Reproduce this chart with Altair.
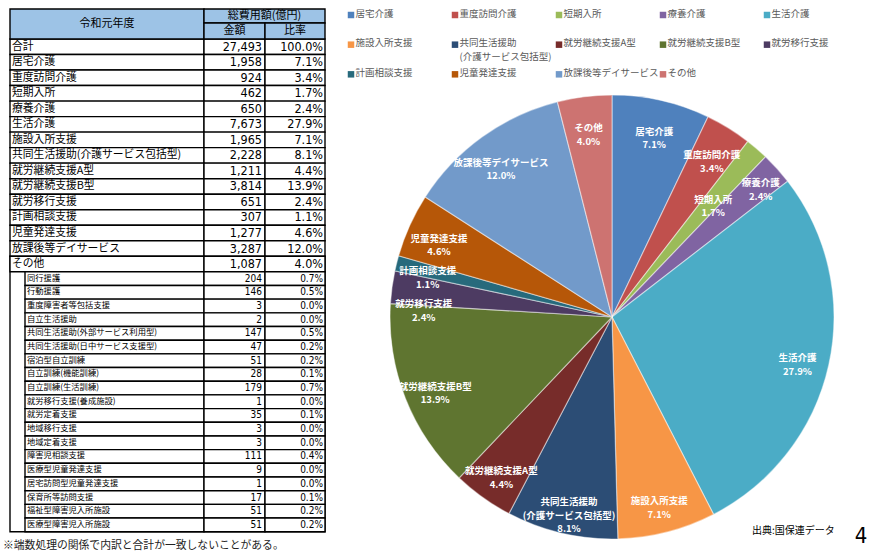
import altair as alt
import pandas as pd

# ---------------- data ----------------
header_year = "令和元年度"
header_total = "総費用額(億円)"
header_cols = ["金額", "比率"]

main_names = ["合計", "居宅介護", "重度訪問介護", "短期入所", "療養介護", "生活介護", "施設入所支援",
              "共同生活援助(介護サービス包括型)", "就労継続支援A型", "就労継続支援B型", "就労移行支援",
              "計画相談支援", "児童発達支援", "放課後等デイサービス", "その他"]
main_amounts = [27493, 1958, 924, 462, 650, 7673, 1965, 2228, 1211, 3814, 651, 307, 1277, 3287, 1087]
main_pcts = [100.0, 7.1, 3.4, 1.7, 2.4, 27.9, 7.1, 8.1, 4.4, 13.9, 2.4, 1.1, 4.6, 12.0, 4.0]

sub_names = ["同行援護", "行動援護", "重度障害者等包括支援", "自立生活援助",
             "共同生活援助(外部サービス利用型)", "共同生活援助(日中サービス支援型)", "宿泊型自立訓練",
             "自立訓練(機能訓練)", "自立訓練(生活訓練)", "就労移行支援(養成施設)", "就労定着支援",
             "地域移行支援", "地域定着支援", "障害児相談支援", "医療型児童発達支援",
             "居宅訪問型児童発達支援", "保育所等訪問支援", "福祉型障害児入所施設", "医療型障害児入所施設"]
sub_amounts = [204, 146, 3, 2, 147, 47, 51, 28, 179, 1, 35, 3, 3, 111, 9, 1, 17, 51, 51]
sub_pcts = [0.7, 0.5, 0.0, 0.0, 0.5, 0.2, 0.2, 0.1, 0.7, 0.0, 0.1, 0.0, 0.0, 0.4, 0.0, 0.0, 0.1, 0.2, 0.2]

pie_colors = ["#4F81BD", "#C0504D", "#9BBB59", "#8064A2", "#4BACC6", "#F79646", "#2C4D75",
              "#772C2A", "#5F7530", "#4D3B62", "#276A7C", "#B65708", "#729ACA", "#CD7371"]

footnote = "※端数処理の関係で内訳と合計が一致しないことがある。"
source = "出典:国保連データ"
page_no = "4"

# ---------------- layout constants ----------------
CJK = "Noto Sans CJK JP"
NARROW = "Liberation Sans Narrow, DejaVu Sans Condensed, sans-serif"
TW, RW, H = 330, 530, 555
TX0, TXS, TX1, TX2, TX3 = 10, 25, 204, 265, 325
HT, HM, HB = 9, 23, 39
MAIN_H, SUB_H = 15.52, 13.68

rows = []
y = HB
for n, a, p in zip(main_names, main_amounts, main_pcts):
    rows.append(dict(kind="main", name=n, amt=f"{a:,}", pct=f"{p:.1f}%", y0=y, y1=y + MAIN_H, xl=TX0))
    y += MAIN_H
other_top = y - MAIN_H
for n, a, p in zip(sub_names, sub_amounts, sub_pcts):
    rows.append(dict(kind="sub", name=n, amt=f"{a:,}", pct=f"{p:.1f}%", y0=y, y1=y + SUB_H, xl=TXS))
    y += SUB_H
table_bottom = y
rows = pd.DataFrame(rows)
rows["ym"] = (rows.y0 + rows.y1) / 2
rows["xa"] = TX2
rows["xp"] = TX3

cells = []
for r in rows.itertuples():
    for a, b in [(r.xl, TX1), (TX1, TX2), (TX2, TX3)]:
        cells.append(dict(x0=a, x1=b, y0=r.y0, y1=r.y1))
cells = pd.DataFrame(cells)

bracket = pd.DataFrame([dict(x0=TX0, x1=TX3, y0=other_top, y1=table_bottom)])

head = pd.DataFrame([
    dict(t=header_year, x0=TX0, x1=TX1, y0=HT, y1=HB),
    dict(t=header_total, x0=TX1, x1=TX3, y0=HT, y1=HM),
    dict(t=header_cols[0], x0=TX1, x1=TX2, y0=HM, y1=HB),
    dict(t=header_cols[1], x0=TX2, x1=TX3, y0=HM, y1=HB),
])
head["xc"] = (head.x0 + head.x1) / 2
head["yc"] = (head.y0 + head.y1) / 2

xs = alt.Scale(domain=[0, TW], nice=False, zero=False)
ys = alt.Scale(domain=[0, H], nice=False, zero=False, reverse=True)

def X(f):
    return alt.X(f, type="quantitative", scale=xs, axis=None)

def Y(f):
    return alt.Y(f, type="quantitative", scale=ys, axis=None)

rect_kw = dict(stroke="black", strokeWidth=1.4)
t_bracket = alt.Chart(bracket).mark_rect(fill="white", **rect_kw).encode(x=X("x0"), x2="x1", y=Y("y0"), y2="y1")
t_cells = alt.Chart(cells).mark_rect(fill="white", **rect_kw).encode(x=X("x0"), x2="x1", y=Y("y0"), y2="y1")
t_head = alt.Chart(head).mark_rect(fill="#9DC3E6", **rect_kw).encode(x=X("x0"), x2="x1", y=Y("y0"), y2="y1")
t_head_txt = alt.Chart(head).mark_text(font=CJK, fontSize=11, color="black", baseline="middle").encode(
    x=X("xc"), y=Y("yc"), text="t")

main = rows[rows.kind == "main"]
sub = rows[rows.kind == "sub"]

def row_text(df, size_name, size_num):
    n = alt.Chart(df).mark_text(font=CJK, fontSize=size_name, align="left", baseline="middle", dx=2,
                                color="black").encode(x=X("xl"), y=Y("ym"), text="name")
    a = alt.Chart(df).mark_text(font=NARROW, fontSize=size_num, align="right", baseline="middle", dx=-3,
                                color="black").encode(x=X("xa"), y=Y("ym"), text="amt")
    p = alt.Chart(df).mark_text(font=NARROW, fontSize=size_num, align="right", baseline="middle", dx=-2,
                                color="black").encode(x=X("xp"), y=Y("ym"), text="pct")
    return [n, a, p]

t_foot = alt.Chart(pd.DataFrame({"t": [footnote]})).mark_text(
    font=CJK, fontSize=10.8, align="left", baseline="middle", color="#222").encode(
    text="t", x=alt.value(3), y=alt.value(546))

table = alt.layer(t_bracket, t_cells, t_head, t_head_txt,
                  *row_text(main, 10.8, 12.5), *row_text(sub, 8.3, 10), t_foot).properties(width=TW, height=H)

# ---------------- pie ----------------
pie_names = main_names[1:]
pie = pd.DataFrame({
    "name": pie_names,
    "value": main_amounts[1:],
    "pct": main_pcts[1:],
})
pie["idx"] = range(len(pie))
pie["label"] = [n.replace("(", "\n(") + "\n" + f"{p:.1f}%" for n, p in zip(pie.name, pie.pct)]
pie["leg"] = [n.replace("(", "\n(") for n in pie.name]
pie["col"] = pie.idx % 5
pie["row"] = pie.idx // 5

cscale = alt.Scale(domain=pie_names, range=pie_colors)
CX, CY, R = 272, 317, 222

arcs = alt.Chart(pie).mark_arc(radius=R, stroke="white", strokeWidth=1.2, strokeOpacity=0.45).encode(
    theta=alt.Theta("value:Q", stack=True),
    color=alt.Color("name:N", scale=cscale, legend=None),
    order=alt.Order("idx:Q"),
    x=alt.value(CX), y=alt.value(CY))

lab_kw = dict(font=CJK, fontSize=9.5, fontWeight="bold", color="white",
              lineBreak="\n", baseline="middle", align="center", lineHeight=13.5)

# label placement tweaks for crowded small slices (styling only)
inner = ["短期入所"]
outer = ["療養介護"]
lower = ["就労移行支援"]
special = inner + outer + lower


def lab_layer(pred, **kw):
    return alt.Chart(pie).transform_window(
        cum="sum(value)", sort=[alt.SortField("idx")], frame=[None, 0]
    ).transform_calculate(
        mid="datum.cum - datum.value / 2"
    ).transform_filter(pred).mark_text(**lab_kw, **kw).encode(
        theta=alt.Theta("mid:Q", stack=None),
        text="label:N",
        x=alt.value(CX), y=alt.value(CY))

lab_main = lab_layer(~alt.FieldOneOfPredicate(field="name", oneOf=special), radius=190)
lab_inner = lab_layer(alt.FieldOneOfPredicate(field="name", oneOf=inner), radius=155)
lab_outer = lab_layer(alt.FieldOneOfPredicate(field="name", oneOf=outer), radius=200)
lab_lower = lab_layer(alt.FieldOneOfPredicate(field="name", oneOf=lower), radius=190, dy=13)

lx = alt.Scale(domain=[0, 5], range=[11, 531], nice=False, zero=False)
ly = alt.Scale(domain=[0, 3], range=[15, 104], nice=False, zero=False)
leg_sq = alt.Chart(pie).mark_square(size=42, opacity=1).encode(
    x=alt.X("col:Q", scale=lx, axis=None),
    y=alt.Y("row:Q", scale=ly, axis=None),
    color=alt.Color("name:N", scale=cscale, legend=None))
leg_txt = alt.Chart(pie).mark_text(font=CJK, fontSize=9.5, color="#595959", align="left", baseline="top",
                                   dx=4.5, dy=-6.5, lineBreak="\n", lineHeight=14).encode(
    x=alt.X("col:Q", scale=lx, axis=None),
    y=alt.Y("row:Q", scale=ly, axis=None),
    text="leg:N")

src = alt.Chart(pd.DataFrame({"t": [source]})).mark_text(
    font=CJK, fontSize=10, align="left", baseline="middle", color="black").encode(
    text="t", x=alt.value(412), y=alt.value(531))
pg = alt.Chart(pd.DataFrame({"t": [page_no]})).mark_text(
    font=NARROW, fontSize=22, align="center", baseline="middle", color="black").encode(
    text="t", x=alt.value(521), y=alt.value(536))

right = alt.layer(arcs, lab_main, lab_inner, lab_outer, lab_lower, leg_sq, leg_txt, src, pg).properties(
    width=RW, height=H)

chart = alt.hconcat(table, right, spacing=10, bounds="flush").properties(
    padding=0
).configure(background="white").configure_view(stroke=None)

chart.save("out.html", embed_options={"renderer": "svg", "actions": False})
